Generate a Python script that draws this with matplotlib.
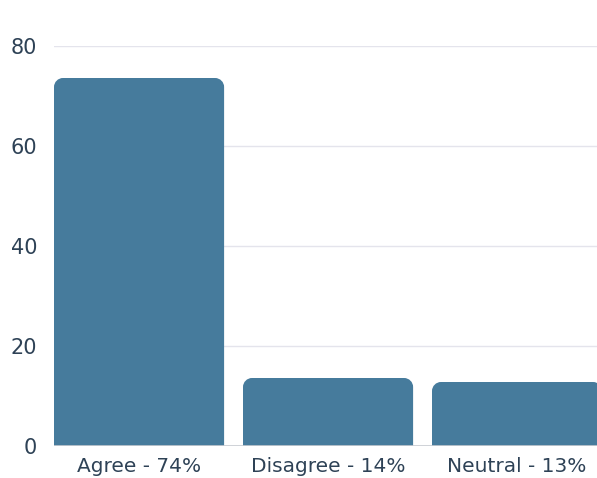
import matplotlib
matplotlib.use("Agg")
import matplotlib.pyplot as plt
from matplotlib.path import Path
from matplotlib.patches import PathPatch

categories = ["Agree - 74%", "Disagree - 14%", "Neutral - 13%"]
values = [73.6, 13.6, 12.8]
yticks = [0, 20, 40, 60, 80]

plt.rcParams['font.family'] = ['DejaVu Sans']

W, H = 597, 478
fig = plt.figure(figsize=(W / 100, H / 100), dpi=100)
ax = fig.add_axes([54 / W, (H - 446) / H, 1 - 54 / W, (446 - 46) / H])

bar_w = 0.9
bars = ax.bar(range(len(values)), values, width=bar_w, color="#467b9c", zorder=3)
ax.set_xlim(-0.45, -0.45 + (W - 54) / 189)
ax.set_ylim(0, 80)
ax.set_yticks(yticks)
ax.set_xticks(range(len(categories)))
ax.set_xticklabels(categories)

for s in ax.spines.values():
    s.set_visible(False)
ax.grid(axis='y', color="#e4e4ec", linewidth=1, zorder=0)
ax.axhline(0, color="#c8ccd2", linewidth=1.2, zorder=4)
ax.tick_params(axis='both', length=0, labelsize=14.5, colors="#2e4256")
ax.tick_params(axis='y', pad=12, labelsize=15)
ax.tick_params(axis='x', pad=8)

# rounded top corners
fig.canvas.draw()
bbox = ax.get_window_extent()
xl = ax.get_xlim(); yl = ax.get_ylim()
pxx = bbox.width / (xl[1] - xl[0])
pxy = bbox.height / (yl[1] - yl[0])
r = 9
for b in bars:
    x0, y0 = b.get_x(), b.get_y()
    w, h = b.get_width(), b.get_height()
    rx, ry = r / pxx, r / pxy
    k = 0.5523
    verts = [(x0, y0), (x0, y0 + h - ry),
             (x0, y0 + h - ry + k * ry), (x0 + rx - k * rx, y0 + h), (x0 + rx, y0 + h),
             (x0 + w - rx, y0 + h),
             (x0 + w - rx + k * rx, y0 + h), (x0 + w, y0 + h - ry + k * ry), (x0 + w, y0 + h - ry),
             (x0 + w, y0), (x0, y0)]
    codes = [Path.MOVETO, Path.LINETO,
             Path.CURVE4, Path.CURVE4, Path.CURVE4,
             Path.LINETO,
             Path.CURVE4, Path.CURVE4, Path.CURVE4,
             Path.LINETO, Path.CLOSEPOLY]
    ax.add_patch(PathPatch(Path(verts, codes), facecolor=b.get_facecolor(),
                           edgecolor='none', zorder=3))
    b.set_visible(False)

fig.savefig("out.png", dpi=100)
